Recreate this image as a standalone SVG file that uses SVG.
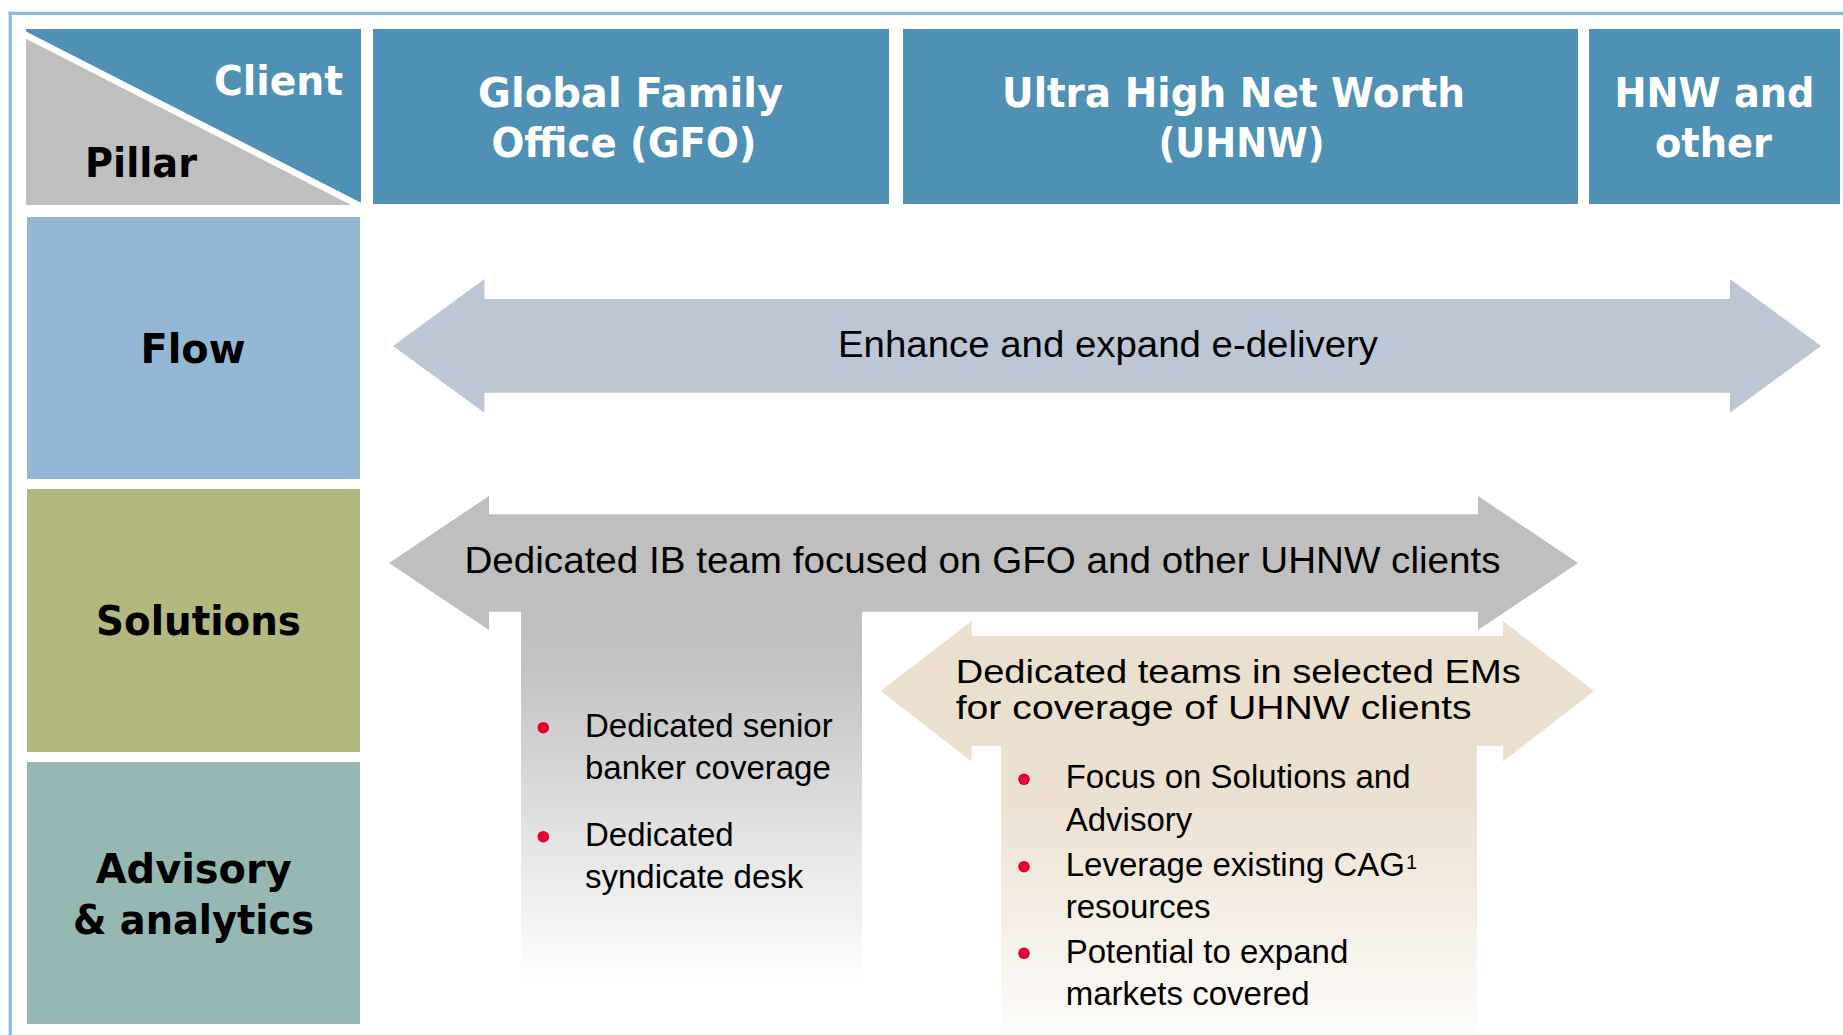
<svg xmlns="http://www.w3.org/2000/svg" width="1843" height="1035" viewBox="0 0 1843 1035">
  <style>
    .hdr { fill: #4e91b5; }
    .bold { font-family: "DejaVu Sans", "Liberation Sans", sans-serif; font-weight: bold; font-size: 41px; }
    .white { fill: #ffffff; }
    .black { fill: #000000; }
    .reg { font-family: "Liberation Sans", Arial, sans-serif; font-size: 33px; fill: #000000; }
    .big { font-size: 36px; }
    .mid { font-size: 34px; }
    .bullet { fill: #e6002e; }
  </style>
  <defs>
    <linearGradient id="grayFade" x1="0" y1="0" x2="0" y2="1">
      <stop offset="0" stop-color="#bfbfbf"/>
      <stop offset="0.15" stop-color="#c2c2c2"/>
      <stop offset="1" stop-color="#ffffff"/>
    </linearGradient>
    <linearGradient id="beigeFade" x1="0" y1="0" x2="0" y2="1">
      <stop offset="0" stop-color="#ebdfcd"/>
      <stop offset="0.2" stop-color="#ece1d1"/>
      <stop offset="1" stop-color="#fdfcfa"/>
    </linearGradient>
    <clipPath id="cornerClip">
      <rect x="26" y="29" width="335" height="176"/>
    </clipPath>
  </defs>

  <rect x="0" y="0" width="1843" height="1035" fill="#ffffff"/>

  <!-- outer frame -->
  <g id="frame" stroke="#95b8d9" stroke-width="3.3" fill="none">
    <line x1="8.6" y1="13.3" x2="1843" y2="13.3"/>
    <line x1="10.3" y1="11.6" x2="10.3" y2="1035"/>
  </g>

  <!-- corner cell: Client / Pillar -->
  <g id="corner">
    <g clip-path="url(#cornerClip)">
      <rect x="26" y="29" width="335" height="176" class="hdr"/>
      <polygon points="26,33 26,205 361,205" fill="#bfbfbf"/>
      <line x1="20" y1="32" x2="368" y2="210" stroke="#ffffff" stroke-width="6.5"/>
    </g>
    <text x="214" y="94.5" class="bold white" textLength="129" lengthAdjust="spacingAndGlyphs">Client</text>
    <text x="85" y="177" class="bold black" textLength="112" lengthAdjust="spacingAndGlyphs">Pillar</text>
  </g>

  <!-- client headers -->
  <g id="hdr-gfo">
    <rect x="373" y="29" width="516" height="175" class="hdr"/>
    <text x="478" y="107" class="bold white" textLength="305" lengthAdjust="spacingAndGlyphs">Global Family</text>
    <text x="491.5" y="156.7" class="bold white" textLength="265" lengthAdjust="spacingAndGlyphs">Office (GFO)</text>
  </g>
  <g id="hdr-uhnw">
    <rect x="903" y="29" width="675" height="175" class="hdr"/>
    <text x="1002" y="107" class="bold white" textLength="463" lengthAdjust="spacingAndGlyphs">Ultra High Net Worth</text>
    <text x="1158.5" y="156.7" class="bold white" textLength="166" lengthAdjust="spacingAndGlyphs">(UHNW)</text>
  </g>
  <g id="hdr-hnw">
    <rect x="1589" y="29" width="251" height="175" class="hdr"/>
    <text x="1614.5" y="107" class="bold white" textLength="200" lengthAdjust="spacingAndGlyphs">HNW and</text>
    <text x="1655" y="156.7" class="bold white" textLength="117" lengthAdjust="spacingAndGlyphs">other</text>
  </g>

  <!-- pillar rows -->
  <g id="row-flow">
    <rect x="27" y="217" width="333" height="262" fill="#94b7d5"/>
    <text x="140.5" y="363" class="bold black" textLength="105" lengthAdjust="spacingAndGlyphs">Flow</text>
  </g>
  <g id="row-solutions">
    <rect x="27" y="489" width="333" height="263" fill="#b3b87e"/>
    <text x="96" y="635" class="bold black" textLength="205" lengthAdjust="spacingAndGlyphs">Solutions</text>
  </g>
  <g id="row-advisory">
    <rect x="27" y="762" width="333" height="262" fill="#95b8b4"/>
    <text x="95.7" y="883.3" class="bold black" textLength="196" lengthAdjust="spacingAndGlyphs">Advisory</text>
    <text x="73" y="934.3" class="bold black" textLength="241" lengthAdjust="spacingAndGlyphs">&amp; analytics</text>
  </g>

  <!-- coverage arrows -->
  <g id="connectors">
    <g id="arrow-edelivery">
      <polygon fill="#bdc6d4" points="393,346 484.4,279 484.4,299 1730,299 1730,279 1821,346 1730,412.7 1730,392.7 484.4,392.7 484.4,412.7"/>
      <text x="838" y="356.7" class="reg big" textLength="540" lengthAdjust="spacingAndGlyphs">Enhance and expand e-delivery</text>
    </g>

    <g id="arrow-ib-team">
      <rect x="521" y="611" width="341" height="372" fill="url(#grayFade)"/>
      <polygon fill="#bfbfbf" points="389,563 489,496 489,514.3 1478,514.3 1478,496 1578,563 1478,630 1478,611.7 489,611.7 489,630"/>
      <text x="464.5" y="573.3" class="reg big" textLength="1036" lengthAdjust="spacingAndGlyphs">Dedicated IB team focused on GFO and other UHNW clients</text>
      <circle cx="543.3" cy="727.7" r="5.8" class="bullet"/>
      <text x="585" y="736.7" class="reg">Dedicated senior</text>
      <text x="585" y="779" class="reg">banker coverage</text>
      <circle cx="543.3" cy="836.7" r="5.8" class="bullet"/>
      <text x="585" y="846" class="reg">Dedicated</text>
      <text x="585" y="888" class="reg">syndicate desk</text>
    </g>

    <g id="arrow-em-teams">
      <rect x="1001" y="745" width="476" height="290" fill="url(#beigeFade)"/>
      <polygon fill="#ebdfcd" points="880.6,691 971.7,621 971.7,636 1503,636 1503,621 1594,691 1503,761.5 1503,746 971.7,746 971.7,761.5"/>
      <text x="955.7" y="682.7" class="reg mid" textLength="565" lengthAdjust="spacingAndGlyphs">Dedicated teams in selected EMs</text>
      <text x="955.7" y="719.3" class="reg mid" textLength="516" lengthAdjust="spacingAndGlyphs">for coverage of UHNW clients</text>
      <circle cx="1024" cy="779.3" r="5.8" class="bullet"/>
      <text x="1065.7" y="788.3" class="reg">Focus on Solutions and</text>
      <text x="1065.7" y="831" class="reg">Advisory</text>
      <circle cx="1024" cy="866.7" r="5.8" class="bullet"/>
      <text x="1065.7" y="876" class="reg">Leverage existing CAG<tspan font-size="20" dx="1" dy="-7">1</tspan></text>
      <text x="1065.7" y="918.3" class="reg">resources</text>
      <circle cx="1024" cy="953.3" r="5.8" class="bullet"/>
      <text x="1065.7" y="962.7" class="reg">Potential to expand</text>
      <text x="1065.7" y="1005" class="reg">markets covered</text>
    </g>
  </g>
</svg>
